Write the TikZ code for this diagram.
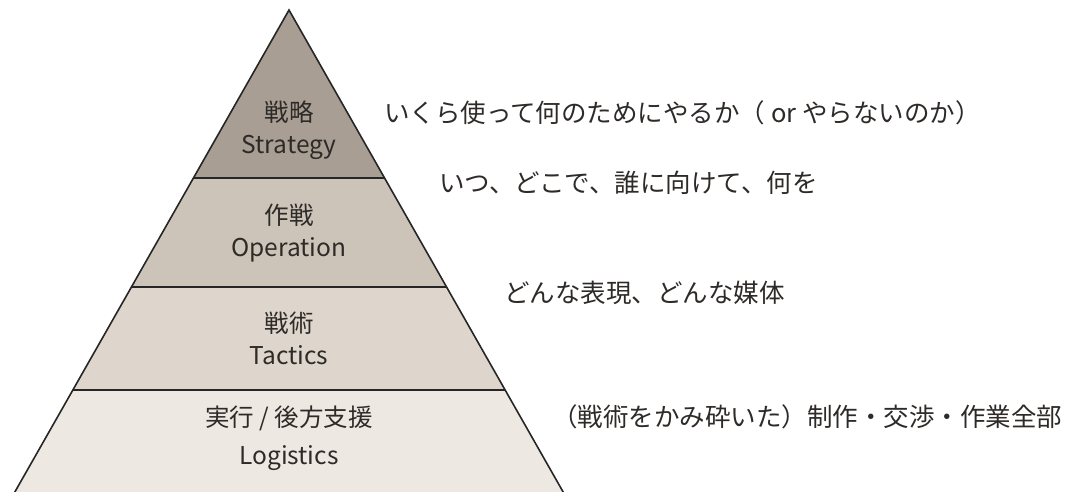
\documentclass[tikz,border=0pt]{standalone}
\usepackage{fontspec}
\setmainfont{Noto Sans CJK JP}
\definecolor{lay1}{RGB}{168,158,147}
\definecolor{lay2}{RGB}{205,196,185}
\definecolor{lay3}{RGB}{222,214,205}
\definecolor{lay4}{RGB}{238,232,227}
\definecolor{ink}{RGB}{45,42,40}
\tikzset{
  layerlabel/.style={text=ink,align=center,font=\fontsize{24.5}{32}\selectfont,inner sep=0pt},
  sidetext/.style={text=ink,anchor=west,font=\fontsize{25.5}{28}\selectfont,inner sep=0pt},
  edge/.style={draw=black!85,line width=1.6pt,line join=miter}
}
\begin{document}
\begin{tikzpicture}[x=1pt,y=-1pt]
\useasboundingbox (0,0) rectangle (1077,492);
\clip (0,0) rectangle (1077,492);
% apex and layer boundaries
\coordinate (A) at (289,10);
\coordinate (L1) at (193.4,178); \coordinate (R1) at (384.6,178);
\coordinate (L2) at (131.4,287); \coordinate (R2) at (446.6,287);
\coordinate (L3) at (72.8,390);  \coordinate (R3) at (505.2,390);
\coordinate (L4) at (12.0,497);  \coordinate (R4) at (566.0,497);
\fill[lay1] (A) -- (R1) -- (L1) -- cycle;
\fill[lay2] (L1) -- (R1) -- (R2) -- (L2) -- cycle;
\fill[lay3] (L2) -- (R2) -- (R3) -- (L3) -- cycle;
\fill[lay4] (L3) -- (R3) -- (R4) -- (L4) -- cycle;
\draw[edge] (L4) -- (A) -- (R4);
\draw[edge] (L1) -- (R1);
\draw[edge] (L2) -- (R2);
\draw[edge] (L3) -- (R3);
% layer labels
\node[layerlabel] (s) at (289,130) {戦略\\Strategy};
\node[layerlabel] (o) at (289,233) {作戦\\Operation};
\node[layerlabel] (t) at (289,338) {戦術\\Tactics};
\node[layerlabel,font=\fontsize{24.5}{38}\selectfont] (l) at (289,438) {実行 / 後方支援\\Logistics};
% side texts
\node[sidetext] (ds) at (384,113) {いくら使って何のためにやるか（ or やらないのか）};
\node[sidetext] (do) at (439,183) {いつ、どこで、誰に向けて、何を};
\node[sidetext] (dt) at (504,293) {どんな表現、どんな媒体};
\node[sidetext] (dl) at (552,417) {（戦術をかみ砕いた）制作・交渉・作業全部};
\end{tikzpicture}
\end{document}
